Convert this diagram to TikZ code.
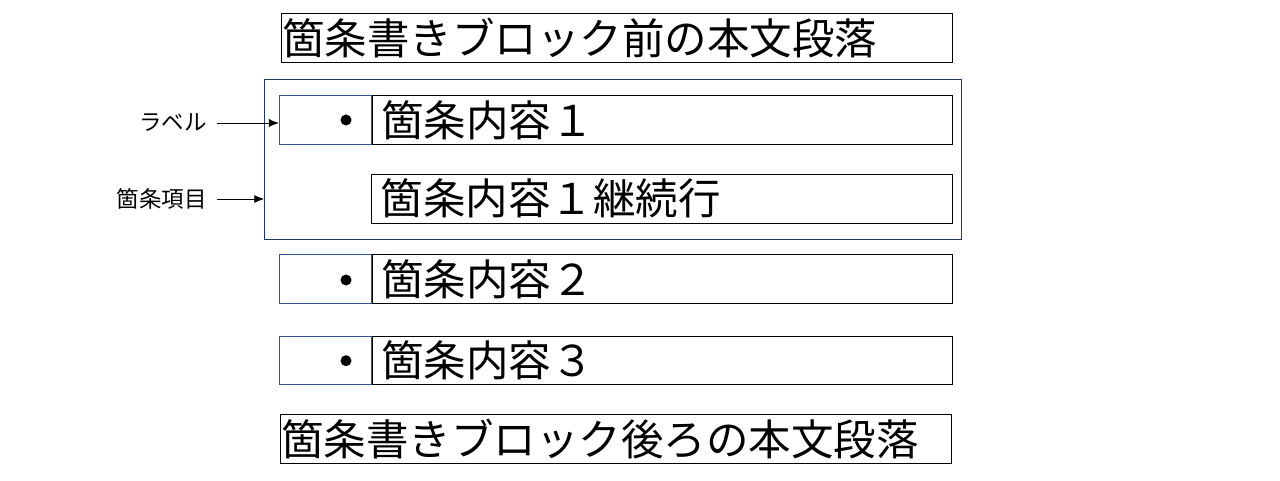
\documentclass[tikz,border=0pt]{standalone}
\usepackage{fontspec}
\setmainfont{Noto Sans CJK JP}
\usetikzlibrary{positioning,arrows.meta}
\definecolor{label_blue}{HTML}{2F5597}
\definecolor{item_navy}{HTML}{1F3864}

\begin{document}
\begin{tikzpicture}[x=1pt, y=-1pt,
  para/.style={rectangle, draw = black, thick, minimum width=671pt, minimum height=48.5pt, text width=669pt, inner xsep=1pt, inner ysep=0pt, align=left, font=\fontsize{42.5pt}{50pt}\selectfont},
  labelbox/.style={rectangle, draw = label_blue, thick, minimum width=92pt, minimum height=48.5pt, inner sep=0pt},
  content/.style={rectangle, draw = black, thick, minimum width=580.5pt, minimum height=48.5pt, text width=562.5pt, inner xsep=9pt, inner ysep=0pt, align=left, font=\fontsize{42.5pt}{50pt}\selectfont},
  bullet/.style={circle, fill = black, minimum size=11pt, inner sep=0pt},
  tag/.style={anchor=east, inner xsep=10pt, inner ysep=0pt, font=\fontsize{22.5pt}{27pt}\selectfont}]
\useasboundingbox (0,0) rectangle (1280,481);
\node (Before) [para] at (616.5,38) {箇条書きブロック前の本文段落};
\node (Item) [rectangle, draw = item_navy, thick, minimum width=696.5pt, minimum height=160pt] at (612.9,159.3) {};
\node (LabelA) [labelbox] at (325.3,120) {};
\node (ContentA) [content, right=0pt of LabelA] {箇条内容１};
\node (ContentAcont) [content] at (661.8,198.7) {箇条内容１継続行};
\node (LabelB) [labelbox] at (325.3,278.9) {};
\node (ContentB) [content, right=0pt of LabelB] {箇条内容２};
\node (LabelC) [labelbox] at (325.3,360.5) {};
\node (ContentC) [content, right=0pt of LabelC] {箇条内容３};
\node (After) [para] at (615.5,439) {箇条書きブロック後ろの本文段落};
\node (DotA) [bullet] at (346,120) {};
\node (DotB) [bullet] at (346,280) {};
\node (DotC) [bullet] at (346,360.7) {};
\node (TagLabel) [tag] at (217,123) {ラベル};
\node (TagItem) [tag] at (217,199) {箇条項目};
\draw [-{Latex[length=10pt,width=8pt]}, thick] (TagLabel.east) -- (TagLabel.east -| LabelA.west);
\draw [-{Latex[length=10pt,width=8pt]}, thick] (TagItem.east) -- (TagItem.east -| Item.west);
\end{tikzpicture}
\end{document}
